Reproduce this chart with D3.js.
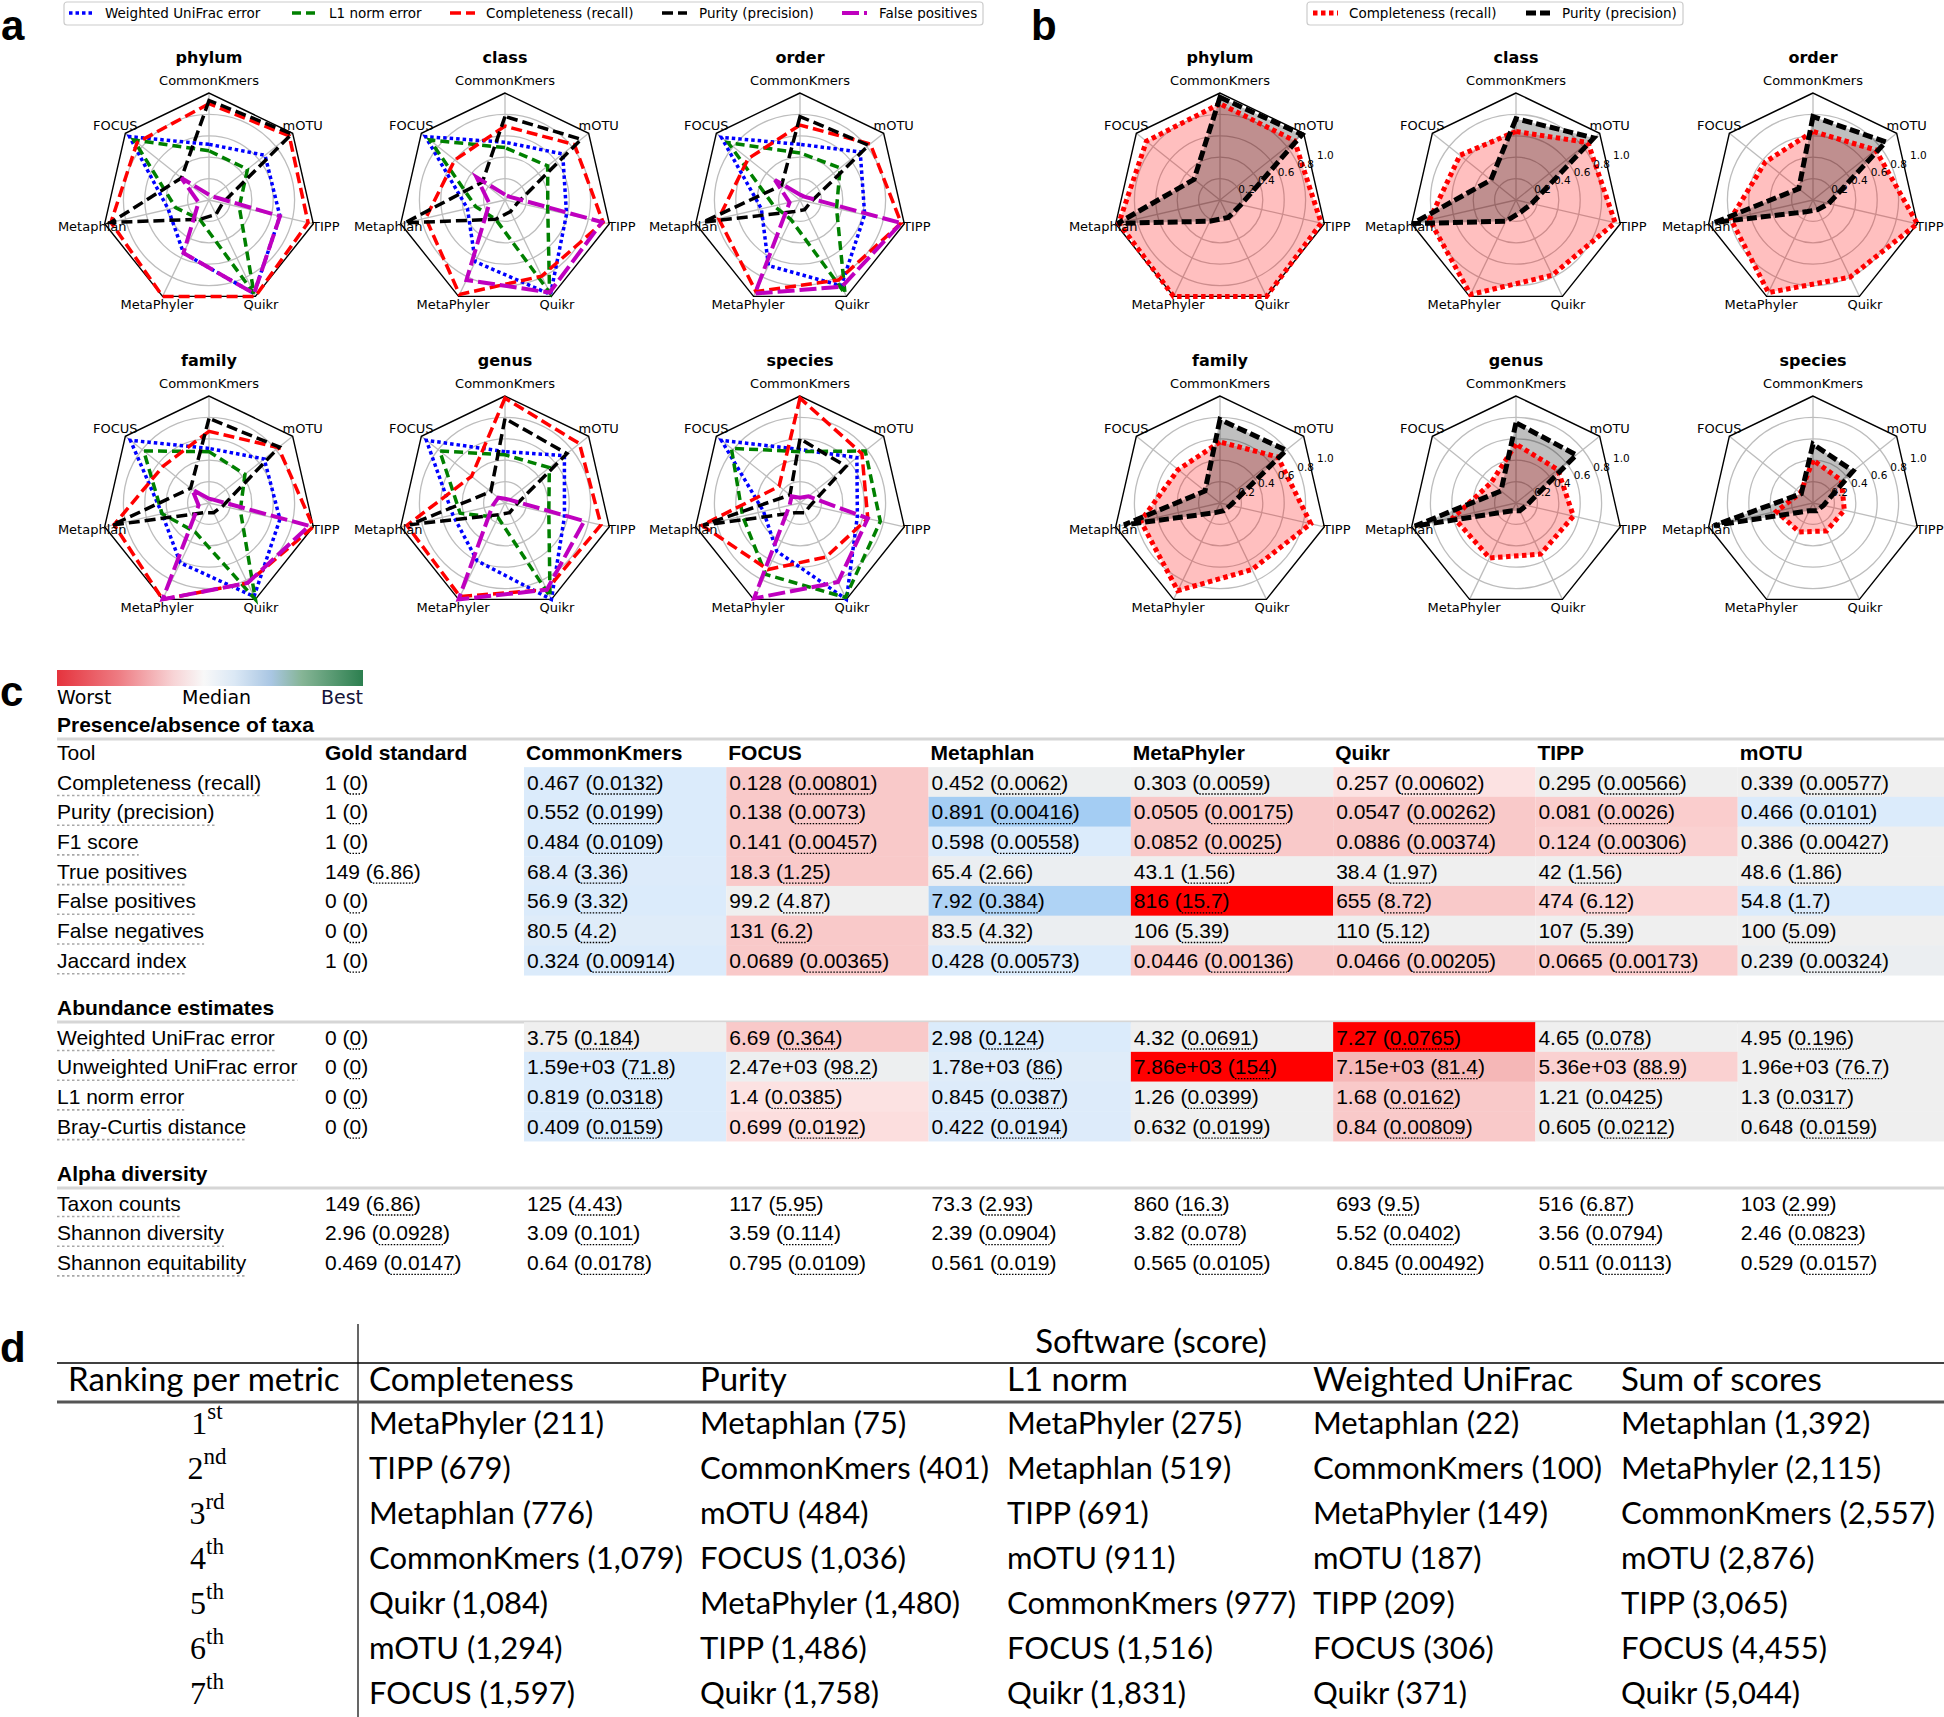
<!DOCTYPE html>
<html>
<head>
<meta charset="utf-8">
<title>Profiling benchmark figure</title>
<script src="https://d3js.org/d3.v7.min.js"></script>
<style>
  body { margin: 0; background: #fff; }
  svg { display: block; }
</style>
</head>
<body>
<svg id="fig" width="1944" height="1717"></svg>
<script>
// ---------- data ----------
const tools = ["CommonKmers", "FOCUS", "Metaphlan", "MetaPhyler", "Quikr", "TIPP", "mOTU"];
const ranks = ["phylum", "class", "order", "family", "genus", "species"];

// panel a: scores per rank (rows) for each tool (cols, same order as tools)
const unifracA = [
  [0.52, 0.95, 0.39, 0.55, 0.97, 0.68, 0.67],
  [0.54, 0.95, 0.36, 0.64, 0.98, 0.59, 0.69],
  [0.52, 0.94, 0.37, 0.68, 0.89, 0.62, 0.72],
  [0.51, 0.94, 0.45, 0.62, 0.97, 0.68, 0.66],
  [0.48, 0.94, 0.50, 0.60, 1.00, 0.57, 0.71],
  [0.50, 0.94, 0.35, 0.50, 1.00, 0.55, 0.68]
];
const l1A = [
  [0.46, 0.90, 0.32, 0.20, 0.97, 0.29, 0.46],
  [0.49, 0.90, 0.28, 0.20, 0.96, 0.41, 0.51],
  [0.44, 0.86, 0.25, 0.20, 0.97, 0.35, 0.48],
  [0.48, 0.78, 0.45, 0.30, 1.00, 0.30, 0.43],
  [0.45, 0.78, 0.43, 0.15, 0.97, 0.42, 0.53],
  [0.48, 0.82, 0.55, 0.74, 0.98, 0.77, 0.78]
];
const completenessA = [
  [0.90, 0.86, 0.94, 1.00, 1.00, 0.95, 0.96],
  [0.69, 0.60, 0.76, 0.98, 0.79, 0.94, 0.83],
  [0.70, 0.62, 0.78, 0.95, 0.83, 0.97, 0.84],
  [0.67, 0.55, 0.91, 1.00, 0.83, 1.00, 0.83],
  [0.98, 0.40, 0.94, 0.97, 0.90, 0.92, 0.89],
  [0.98, 0.25, 0.94, 0.69, 0.56, 0.65, 0.74]
];
const purityA = [
  [0.93, 0.33, 0.94, 0.20, 0.15, 0.13, 0.99],
  [0.78, 0.27, 0.96, 0.20, 0.12, 0.12, 0.91],
  [0.78, 0.22, 0.93, 0.12, 0.10, 0.10, 0.82],
  [0.79, 0.22, 0.93, 0.10, 0.10, 0.13, 0.84],
  [0.79, 0.17, 0.91, 0.12, 0.10, 0.10, 0.74],
  [0.60, 0.12, 0.93, 0.10, 0.10, 0.10, 0.55]
];
const falsePosA = [
  [0.05, 0.33, 0.10, 0.55, 0.97, 0.68, 0.05],
  [0.05, 0.34, 0.15, 0.83, 0.96, 0.93, 0.05],
  [0.05, 0.30, 0.10, 0.97, 0.90, 0.97, 0.05],
  [0.04, 0.20, 0.10, 1.00, 0.83, 0.96, 0.05],
  [0.04, 0.08, 0.12, 1.00, 0.90, 0.76, 0.05],
  [0.05, 0.10, 0.10, 0.99, 0.82, 0.65, 0.10]
];

// panel b: completeness and purity per rank
const completenessB = [
  [0.90, 0.88, 0.97, 1.00, 1.00, 0.97, 0.89],
  [0.64, 0.67, 0.83, 0.98, 0.78, 0.95, 0.86],
  [0.64, 0.57, 0.79, 0.96, 0.80, 1.00, 0.75],
  [0.57, 0.50, 0.76, 0.91, 0.69, 0.87, 0.69],
  [0.55, 0.30, 0.60, 0.57, 0.53, 0.55, 0.50],
  [0.40, 0.15, 0.35, 0.30, 0.29, 0.30, 0.34]
];
const purityB = [
  [0.96, 0.31, 0.98, 0.22, 0.18, 0.20, 0.98],
  [0.76, 0.30, 0.99, 0.22, 0.12, 0.15, 0.93],
  [0.78, 0.17, 0.94, 0.12, 0.10, 0.15, 0.87],
  [0.78, 0.18, 0.92, 0.10, 0.08, 0.10, 0.79],
  [0.75, 0.18, 0.97, 0.08, 0.08, 0.10, 0.72],
  [0.55, 0.14, 0.95, 0.08, 0.08, 0.10, 0.48]
];
const gridLevels = [0.2, 0.4, 0.6, 0.8];
const tickLevels = [0.2, 0.4, 0.6, 0.8, 1.0];

// panel c: table (gold standard + tools)
const presenceRows = ["Completeness (recall)", "Purity (precision)", "F1 score", "True positives",
  "False positives", "False negatives", "Jaccard index"];
const presenceVals = [
  ["1 (0)", "0.467 (0.0132)", "0.128 (0.00801)", "0.452 (0.0062)", "0.303 (0.0059)", "0.257 (0.00602)", "0.295 (0.00566)", "0.339 (0.00577)"],
  ["1 (0)", "0.552 (0.0199)", "0.138 (0.0073)", "0.891 (0.00416)", "0.0505 (0.00175)", "0.0547 (0.00262)", "0.081 (0.0026)", "0.466 (0.0101)"],
  ["1 (0)", "0.484 (0.0109)", "0.141 (0.00457)", "0.598 (0.00558)", "0.0852 (0.0025)", "0.0886 (0.00374)", "0.124 (0.00306)", "0.386 (0.00427)"],
  ["149 (6.86)", "68.4 (3.36)", "18.3 (1.25)", "65.4 (2.66)", "43.1 (1.56)", "38.4 (1.97)", "42 (1.56)", "48.6 (1.86)"],
  ["0 (0)", "56.9 (3.32)", "99.2 (4.87)", "7.92 (0.384)", "816 (15.7)", "655 (8.72)", "474 (6.12)", "54.8 (1.7)"],
  ["0 (0)", "80.5 (4.2)", "131 (6.2)", "83.5 (4.32)", "106 (5.39)", "110 (5.12)", "107 (5.39)", "100 (5.09)"],
  ["1 (0)", "0.324 (0.00914)", "0.0689 (0.00365)", "0.428 (0.00573)", "0.0446 (0.00136)", "0.0466 (0.00205)", "0.0665 (0.00173)", "0.239 (0.00324)"]
];
// relative standing of each tool: -1 worst, 0 median, +1 best
const presenceShade = [
  [0.5, -0.6, 0.05, 0, -0.3, 0, 0],
  [0.5, -0.6, 1, -0.6, -0.6, -0.55, 0.5],
  [0.5, -0.6, 0.5, -0.6, -0.6, -0.5, 0],
  [0.45, -0.6, 0.1, 0, 0, 0, 0],
  [0.5, 0, 0.9, -1, -0.6, -0.45, 0.5],
  [0.4, -0.6, 0.1, 0, 0, 0, 0],
  [0.5, -0.6, 0.5, -0.6, -0.6, -0.55, 0.1]
];
const abundanceRows = ["Weighted UniFrac error", "Unweighted UniFrac error", "L1 norm error", "Bray-Curtis distance"];
const abundanceVals = [
  ["0 (0)", "3.75 (0.184)", "6.69 (0.364)", "2.98 (0.124)", "4.32 (0.0691)", "7.27 (0.0765)", "4.65 (0.078)", "4.95 (0.196)"],
  ["0 (0)", "1.59e+03 (71.8)", "2.47e+03 (98.2)", "1.78e+03 (86)", "7.86e+03 (154)", "7.15e+03 (81.4)", "5.36e+03 (88.9)", "1.96e+03 (76.7)"],
  ["0 (0)", "0.819 (0.0318)", "1.4 (0.0385)", "0.845 (0.0387)", "1.26 (0.0399)", "1.68 (0.0162)", "1.21 (0.0425)", "1.3 (0.0317)"],
  ["0 (0)", "0.409 (0.0159)", "0.699 (0.0192)", "0.422 (0.0194)", "0.632 (0.0199)", "0.84 (0.00809)", "0.605 (0.0212)", "0.648 (0.0159)"]
];
const abundanceShade = [
  [0, -0.6, 0.5, 0, -1, 0, 0],
  [0.5, 0.05, 0.4, -1, -0.7, -0.5, 0],
  [0.5, -0.3, 0.45, 0, -0.6, 0, 0],
  [0.5, -0.35, 0.45, 0, -0.6, 0, 0]
];
const alphaRows = ["Taxon counts", "Shannon diversity", "Shannon equitability"];
const alphaVals = [
  ["149 (6.86)", "125 (4.43)", "117 (5.95)", "73.3 (2.93)", "860 (16.3)", "693 (9.5)", "516 (6.87)", "103 (2.99)"],
  ["2.96 (0.0928)", "3.09 (0.101)", "3.59 (0.114)", "2.39 (0.0904)", "3.82 (0.078)", "5.52 (0.0402)", "3.56 (0.0794)", "2.46 (0.0823)"],
  ["0.469 (0.0147)", "0.64 (0.0178)", "0.795 (0.0109)", "0.561 (0.019)", "0.565 (0.0105)", "0.845 (0.00492)", "0.511 (0.0113)", "0.529 (0.0157)"]
];

// panel d: ranking per metric
const dMetrics = ["Completeness", "Purity", "L1 norm", "Weighted UniFrac", "Sum of scores"];
const rankNums = [1, 2, 3, 4, 5, 6, 7];
const rankSuffix = ["st", "nd", "rd", "th", "th", "th", "th"];
const dTools = [
  ["MetaPhyler", "TIPP", "Metaphlan", "CommonKmers", "Quikr", "mOTU", "FOCUS"],
  ["Metaphlan", "CommonKmers", "mOTU", "FOCUS", "MetaPhyler", "TIPP", "Quikr"],
  ["MetaPhyler", "Metaphlan", "TIPP", "mOTU", "CommonKmers", "FOCUS", "Quikr"],
  ["Metaphlan", "CommonKmers", "MetaPhyler", "mOTU", "TIPP", "FOCUS", "Quikr"],
  ["Metaphlan", "MetaPhyler", "CommonKmers", "mOTU", "TIPP", "FOCUS", "Quikr"]
];
const dScores = [
  [211, 679, 776, 1079, 1084, 1294, 1597],
  [75, 401, 484, 1036, 1480, 1486, 1758],
  [275, 519, 691, 911, 977, 1516, 1831],
  [22, 100, 149, 187, 209, 306, 371],
  [1392, 2115, 2557, 2876, 3065, 4455, 5044]
];

// ---------- setup ----------
const svg = d3.select("#fig");
svg.append("rect").attr("width", 1944).attr("height", 1717).attr("fill", "#fff");

const SANS = "DejaVu Sans, sans-serif";
const ARIAL = "Liberation Sans, Arial, sans-serif";

function panelLabel(t, x, y) {
  svg.append("text").attr("x", x).attr("y", y).text(t)
    .attr("font-family", ARIAL).attr("font-weight", "bold").attr("font-size", 42);
}
panelLabel("a", 1, 40);
panelLabel("b", 1031, 40);
panelLabel("c", 0, 706);
panelLabel("d", 0, 1362);

// ---------- radar charts (a, b) ----------
const R = 107;
const step = 2 * Math.PI / tools.length;
const rScale = d3.scaleLinear().domain([0, 1]).range([0, R]);
const radar = d3.lineRadial()
  .angle((d, i) => -i * step)
  .radius(d => rScale(d))
  .curve(d3.curveLinearClosed);
const pos = (i, v) => [rScale(v) * Math.sin(-i * step), -rScale(v) * Math.cos(-i * step)];

const aSeries = [
  { name: "Weighted UniFrac error", data: unifracA, color: "#0000ff", dash: "3.5 3", width: 3.5 },
  { name: "L1 norm error", data: l1A, color: "#008000", dash: "9 5", width: 3.5 },
  { name: "Completeness (recall)", data: completenessA, color: "#ff0000", dash: "11 5", width: 3.5 },
  { name: "Purity (precision)", data: purityA, color: "#000000", dash: "11 5", width: 3.5 },
  { name: "False positives", data: falsePosA, color: "#bf00bf", dash: "17 5", width: 4 }
];
const bSeries = [
  { name: "Completeness (recall)", data: completenessB, color: "#ff0000", dash: "4.5 3.5", width: 5, fill: "rgba(255,0,0,0.25)" },
  { name: "Purity (precision)", data: purityB, color: "#000000", dash: "10 4", width: 5, fill: "rgba(0,0,0,0.25)" }
];

const colXa = [209, 505, 800], colXb = [1220, 1516, 1813], rowY = [200, 503];

function drawRadar(cx, cy, k, series, filled) {
  const g = svg.append("g").attr("transform", `translate(${cx},${cy})`);
  g.selectAll("circle.grid").data(gridLevels).join("circle").attr("class", "grid")
    .attr("r", d => rScale(d)).attr("fill", "none").attr("stroke", "#bdbdbd").attr("stroke-width", 1.3);
  g.selectAll("line.spoke").data(tools).join("line").attr("class", "spoke")
    .attr("x1", 0).attr("y1", 0)
    .attr("x2", (d, i) => pos(i, 1)[0]).attr("y2", (d, i) => pos(i, 1)[1])
    .attr("stroke", "#bdbdbd").attr("stroke-width", 1.3);
  g.append("path").attr("d", radar(tools.map(() => 1)))
    .attr("fill", "none").attr("stroke", "#000").attr("stroke-width", 1.4);

  if (filled) {
    series.forEach(s => g.append("path").attr("d", radar(s.data[k])).attr("fill", s.fill).attr("stroke", "none"));
  }
  series.forEach(s => g.append("path").attr("d", radar(s.data[k]))
    .attr("fill", "none").attr("stroke", s.color).attr("stroke-width", s.width)
    .attr("stroke-dasharray", s.dash).attr("stroke-linejoin", "miter"));

  if (filled) {
    const a = 23 * Math.PI / 180;
    g.selectAll("text.tick").data(tickLevels).join("text").attr("class", "tick")
      .attr("x", d => Math.cos(a) * rScale(d + 0.07))
      .attr("y", d => -Math.sin(a) * rScale(d + 0.07))
      .attr("text-anchor", "middle").attr("dominant-baseline", "central")
      .attr("font-family", SANS).attr("font-size", 10.5).text(d => d.toFixed(1));
  }

  g.selectAll("text.axis").data(tools).join("text").attr("class", "axis")
    .attr("x", (d, i) => pos(i, 1.12)[0])
    .attr("y", (d, i) => pos(i, 1.12)[1] - (i === 3 || i === 4 ? 3 : 0))
    .attr("text-anchor", "middle").attr("dominant-baseline", "central")
    .attr("font-family", SANS).attr("font-size", 13).text(d => d);

  g.append("text").attr("x", 0).attr("y", -137).attr("text-anchor", "middle")
    .attr("font-family", SANS).attr("font-weight", "bold").attr("font-size", 16).text(ranks[k]);
}

ranks.forEach((r, k) => {
  drawRadar(colXa[k % 3], rowY[Math.floor(k / 3)], k, aSeries, false);
  drawRadar(colXb[k % 3], rowY[Math.floor(k / 3)], k, bSeries, true);
});

function legend(x0, x1, handles, texts, series) {
  const g = svg.append("g");
  g.append("rect").attr("x", x0).attr("y", 2).attr("width", x1 - x0).attr("height", 23).attr("rx", 3)
    .attr("fill", "#fff").attr("stroke", "#cccccc").attr("stroke-width", 1.2);
  series.forEach((s, i) => {
    g.append("line").attr("x1", handles[i]).attr("x2", handles[i] + 25).attr("y1", 13).attr("y2", 13)
      .attr("stroke", s.color).attr("stroke-width", s.width).attr("stroke-dasharray", s.dash);
    g.append("text").attr("x", texts[i]).attr("y", 17.5).attr("font-family", SANS).attr("font-size", 13.5).text(s.name);
  });
}
legend(64, 983, [69, 292, 450, 662, 842], [105, 329, 486, 699, 879], aSeries);
legend(1307, 1683, [1313, 1526], [1349, 1562], bSeries);

// ---------- panel c: table ----------
const grad = svg.append("defs").append("linearGradient").attr("id", "cbar");
[[0, "#e5333d"], [0.2, "#ee7b82"], [0.38, "#f7d3d5"], [0.48, "#f8f8f8"], [0.58, "#dbe8f5"],
 [0.7, "#a9c6e3"], [0.8, "#86b596"], [1, "#2c7f4f"]].forEach(([o, c]) =>
  grad.append("stop").attr("offset", o).attr("stop-color", c));
svg.append("rect").attr("x", 57).attr("y", 670).attr("width", 306).attr("height", 16).attr("fill", "url(#cbar)");
svg.append("text").attr("x", 57).attr("y", 704).attr("font-family", SANS).attr("font-size", 19).text("Worst");
svg.append("text").attr("x", 182).attr("y", 704).attr("font-family", SANS).attr("font-size", 19).text("Median");
svg.append("text").attr("x", 363).attr("y", 704).attr("text-anchor", "end").attr("fill", "#141438")
  .attr("font-family", SANS).attr("font-size", 19).text("Best");

const shadeColor = d3.scaleLinear()
  .domain([-1, -0.7, -0.6, -0.3, 0, 0.5, 1])
  .range(["#ff0000", "#f5b7b7", "#f9c9c9", "#fce2e2", "#efefef", "#dbebfb", "#a4cdf3"]);
const cellX = d3.scaleLinear().domain([0, 7]).range([524, 1940]);
const goldX = 325, labelX = 57, rowH = 29.7;

function valueText(g, x, y, str) {
  const t = g.append("text").attr("x", x).attr("y", y)
    .attr("font-family", ARIAL).attr("font-size", 21).text(str);
  const node = t.node();
  const start = str.indexOf("(") + 1;
  const len = str.length - start - 1;
  const x0 = x + node.getSubStringLength(0, start);
  const w = node.getSubStringLength(start, len);
  g.append("line").attr("x1", x0).attr("x2", x0 + w).attr("y1", y + 4.5).attr("y2", y + 4.5)
    .attr("stroke", "#000").attr("stroke-width", 1.3).attr("stroke-dasharray", "1.5 1.5");
}

function section(title, titleY, rowY0, rows, vals, shades, withHeader) {
  const g = svg.append("g");
  g.append("text").attr("x", labelX).attr("y", titleY + 7).attr("font-family", ARIAL)
    .attr("font-weight", "bold").attr("font-size", 21).text(title);
  g.append("line").attr("x1", 57).attr("x2", 1944).attr("y1", titleY + 14).attr("y2", titleY + 14)
    .attr("stroke", "#d6d6d6").attr("stroke-width", 3);
  const rowY = d3.scaleLinear().domain([0, 1]).range([rowY0, rowY0 + rowH]);
  if (withHeader) {
    const hy = titleY + 28 + 7;
    g.append("text").attr("x", labelX).attr("y", hy).attr("font-family", ARIAL).attr("font-size", 21).text("Tool");
    g.append("text").attr("x", goldX).attr("y", hy).attr("font-family", ARIAL).attr("font-size", 21)
      .attr("font-weight", "bold").text("Gold standard");
    tools.forEach((t, i) => g.append("text").attr("x", cellX(i) + 2).attr("y", hy).attr("font-family", ARIAL)
      .attr("font-size", 21).attr("font-weight", "bold").text(t));
  }
  if (shades) {
    shades.forEach((row, r) => row.forEach((s, i) => {
      g.append("rect").attr("x", cellX(i)).attr("y", rowY(r) - rowH / 2)
        .attr("width", (i === 6 ? 1944 : cellX(i + 1)) - cellX(i)).attr("height", rowH + 0.5)
        .attr("fill", shadeColor(s));
    }));
  }
  rows.forEach((name, r) => {
    const y = rowY(r) + 7.5;
    const t = g.append("text").attr("x", labelX).attr("y", y).attr("font-family", ARIAL).attr("font-size", 21).text(name);
    const w = t.node().getComputedTextLength();
    g.append("line").attr("x1", labelX).attr("x2", labelX + w).attr("y1", y + 6).attr("y2", y + 6)
      .attr("stroke", "#a8a8a8").attr("stroke-width", 1.6).attr("stroke-dasharray", "2.5 2.5");
    vals[r].forEach((v, c) => valueText(g, c === 0 ? goldX : cellX(c - 1) + 3, y, v));
  });
}
section("Presence/absence of taxa", 725, 782, presenceRows, presenceVals, presenceShade, true);
section("Abundance estimates", 1008, 1037, abundanceRows, abundanceVals, abundanceShade, false);
section("Alpha diversity", 1174, 1203, alphaRows, alphaVals, null, false);

// ---------- panel d: ranking table ----------
const DF = "Lato, DejaVu Sans, sans-serif";
const dColX = [369, 700, 1007, 1313, 1621];
const dRowY = d3.scaleLinear().domain([0, 6]).range([1434, 1704]);
const fmt = d3.format(",");
const gd = svg.append("g");
gd.append("line").attr("x1", 358).attr("x2", 358).attr("y1", 1324).attr("y2", 1717).attr("stroke", "#000").attr("stroke-width", 1.2);
gd.append("line").attr("x1", 57).attr("x2", 1944).attr("y1", 1363).attr("y2", 1363).attr("stroke", "#000").attr("stroke-width", 1.5);
gd.append("line").attr("x1", 57).attr("x2", 1944).attr("y1", 1402).attr("y2", 1402).attr("stroke", "#555").attr("stroke-width", 3);
gd.append("text").attr("x", 1151).attr("y", 1353).attr("text-anchor", "middle").attr("font-family", DF)
  .attr("font-size", 33).text("Software (score)");
gd.append("text").attr("x", 68).attr("y", 1391).attr("font-family", DF).attr("font-size", 33).text("Ranking per metric");
dMetrics.forEach((m, j) => gd.append("text").attr("x", dColX[j]).attr("y", 1391).attr("font-family", DF)
  .attr("font-size", 33).text(m));
rankNums.forEach((n, r) => {
  const t = gd.append("text").attr("x", 207).attr("y", dRowY(r)).attr("text-anchor", "middle")
    .attr("font-family", "Liberation Serif, DejaVu Serif, serif").attr("font-size", 32);
  t.append("tspan").text(n);
  t.append("tspan").attr("font-size", 23).attr("dy", -15).text(rankSuffix[r]);
});
dTools.forEach((col, j) => col.forEach((tool, r) => {
  gd.append("text").attr("x", dColX[j]).attr("y", dRowY(r)).attr("font-family", DF).attr("font-size", 31)
    .text(`${tool} (${fmt(dScores[j][r])})`);
}));
</script>
</body>
</html>
